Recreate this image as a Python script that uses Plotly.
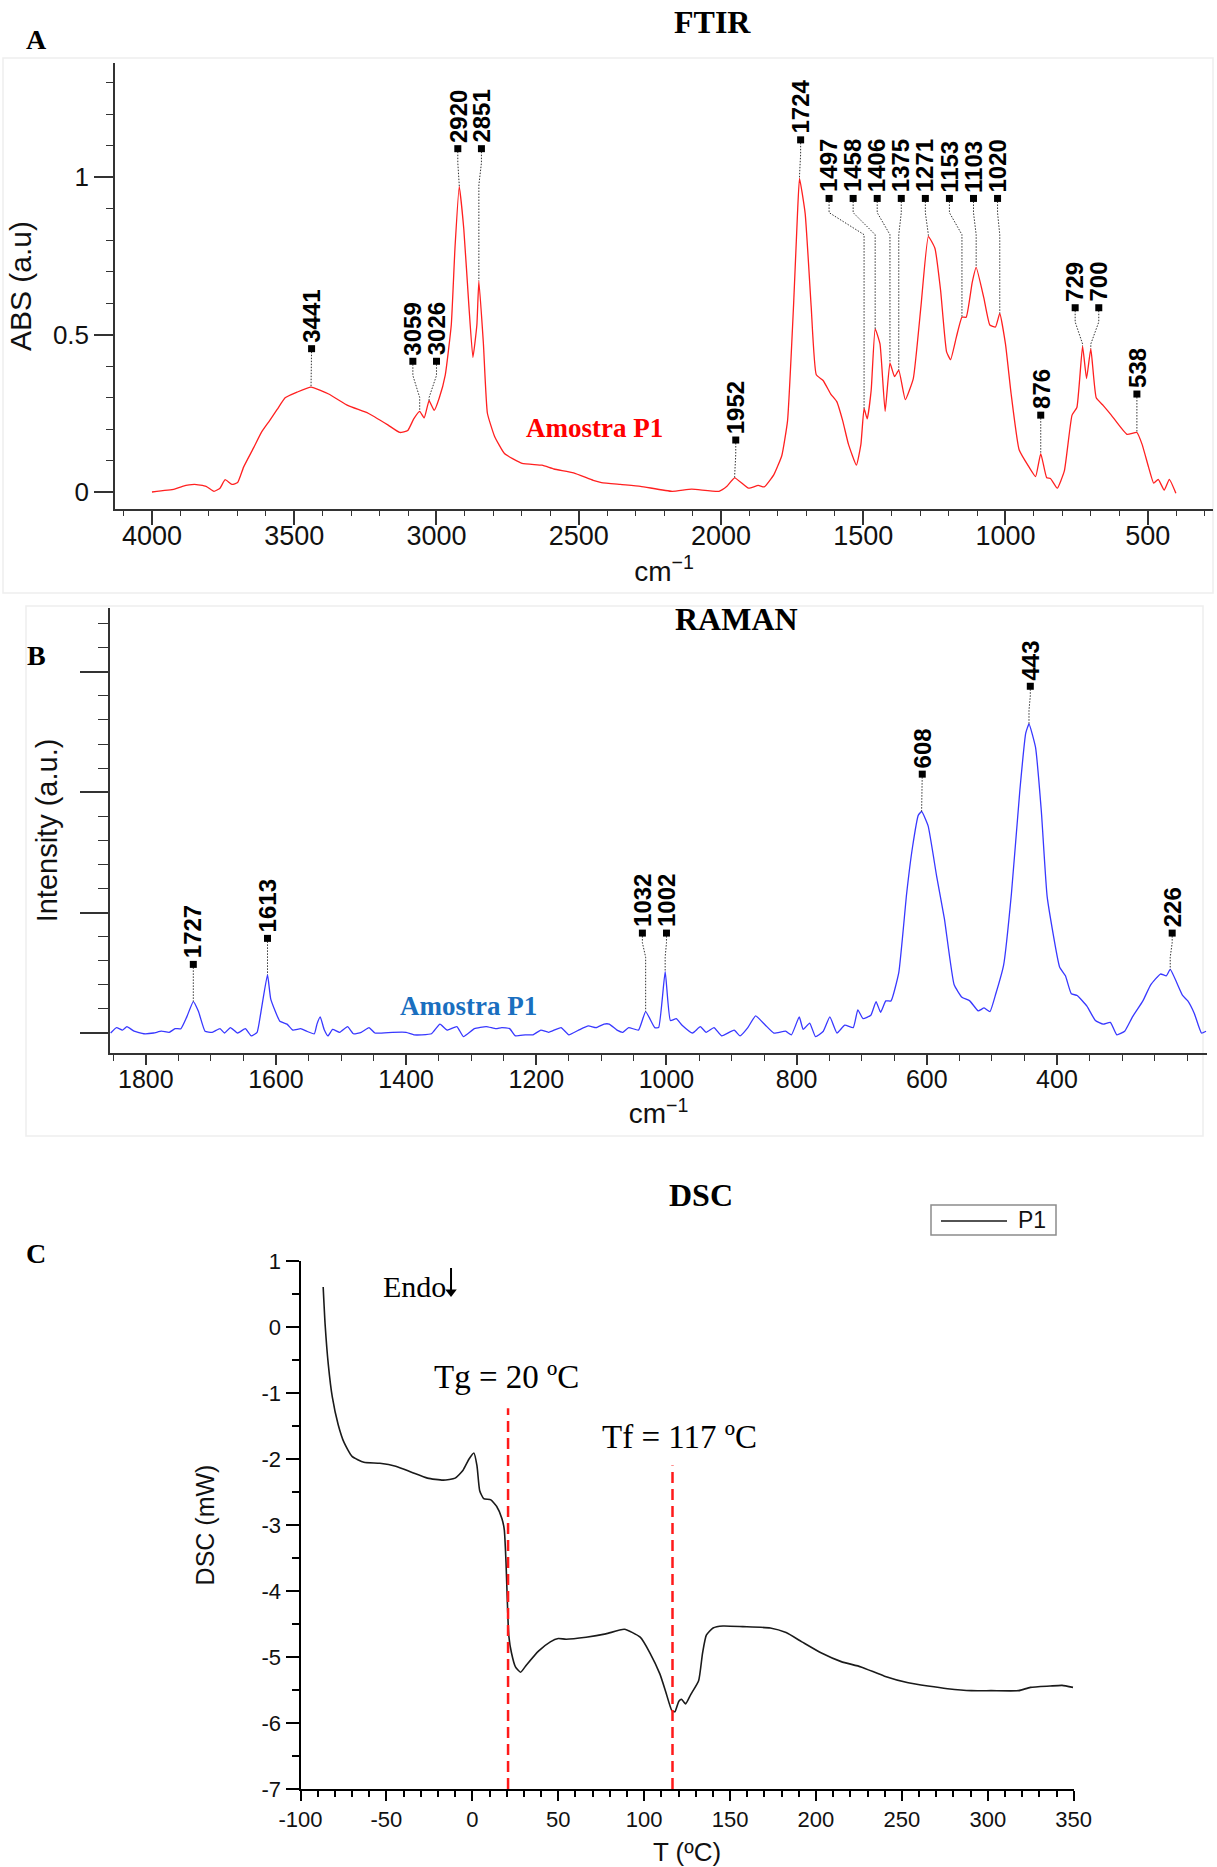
import numpy as np
import plotly.graph_objects as go

# ---------------- DATA ----------------
# FTIR spectrum (wavenumber cm-1, absorbance a.u.)
ftir_x = [4000, 3921, 3893, 3851, 3810, 3782, 3761, 3743, 3719, 3699, 3678, 3643, 3615, 3587, 3560,
          3532, 3490, 3441, 3379, 3310, 3240, 3171, 3129, 3101, 3080, 3059, 3043, 3026, 3008, 2990,
          2969, 2948, 2935, 2920, 2904, 2886, 2872, 2858, 2851, 2835, 2821, 2796, 2761, 2699, 2629,
          2587, 2518, 2449, 2420, 2354, 2283, 2172, 2103, 2007, 1979, 1952, 1903, 1869, 1848, 1814,
          1786, 1766, 1745, 1731, 1724, 1704, 1683, 1665, 1641, 1614, 1593, 1572, 1552, 1524, 1508,
          1497, 1486, 1472, 1458, 1441, 1423, 1406, 1390, 1375, 1352, 1324, 1297, 1271, 1248, 1228,
          1207, 1193, 1172, 1153, 1138, 1117, 1103, 1076, 1055, 1035, 1020, 1000, 980, 952, 917,
          894, 876, 855, 842, 818, 793, 766, 749, 729, 715, 700, 681, 656, 628, 573,
          538, 520, 497, 479, 463, 442, 424, 401]
ftir_y = [0.0, 0.009, 0.018, 0.024, 0.018, 0.002, 0.012, 0.039, 0.024, 0.03, 0.079, 0.14, 0.19, 0.226, 0.262,
          0.299, 0.317, 0.333, 0.311, 0.274, 0.25, 0.213, 0.189, 0.195, 0.232, 0.256, 0.235, 0.29, 0.259, 0.299,
          0.372, 0.53, 0.774, 0.97, 0.835, 0.59, 0.427, 0.53, 0.67, 0.47, 0.25, 0.177, 0.122, 0.091, 0.085,
          0.073, 0.061, 0.037, 0.03, 0.024, 0.018, 0.002, 0.009, 0.002, 0.018, 0.045, 0.012, 0.021, 0.016, 0.055,
          0.116, 0.226, 0.59, 0.884, 0.996, 0.884, 0.59, 0.372, 0.354, 0.311, 0.287, 0.226, 0.152, 0.085, 0.152,
          0.265, 0.232, 0.323, 0.518, 0.47, 0.256, 0.41, 0.366, 0.387, 0.293, 0.36, 0.59, 0.811, 0.774, 0.64,
          0.445, 0.42, 0.494, 0.555, 0.555, 0.665, 0.713, 0.616, 0.53, 0.524, 0.567, 0.47, 0.311, 0.134, 0.079,
          0.049, 0.122, 0.045, 0.043, 0.012, 0.067, 0.244, 0.268, 0.463, 0.36, 0.455, 0.299, 0.274, 0.244, 0.183,
          0.189, 0.152, 0.079, 0.028, 0.04, 0.006, 0.04, -0.004]
ftir_peaks = [3441, 3059, 3026, 2920, 2851, 1952, 1724, 1497, 1458, 1406, 1375, 1271, 1153, 1103, 1020, 876, 729, 700, 538]

# Raman spectrum (Raman shift cm-1, intensity a.u.)
raman_x = [1854, 1845, 1836, 1829, 1818, 1803, 1788, 1776, 1764, 1755, 1746, 1737, 1727, 1719, 1709,
           1698, 1686, 1679, 1670, 1659, 1647, 1638, 1629, 1623, 1613, 1608, 1594, 1583, 1574, 1562,
           1553, 1541, 1537, 1532, 1526, 1520, 1513, 1502, 1490, 1481, 1469, 1457, 1448, 1421, 1400,
           1388, 1376, 1361, 1348, 1337, 1322, 1312, 1295, 1277, 1262, 1253, 1241, 1232, 1217, 1205,
           1193, 1181, 1162, 1150, 1135, 1120, 1108, 1096, 1088, 1076, 1067, 1058, 1043, 1032, 1018,
           1012, 1002, 994, 985, 976, 960, 948, 939, 927, 915, 896, 887, 875, 863, 848,
           835, 817, 808, 796, 790, 780, 771, 759, 749, 738, 726, 713, 706, 698, 686,
           678, 671, 663, 655, 643, 631, 622, 613, 608, 598, 585, 573, 558, 546, 534,
           521, 512, 503, 494, 482, 470, 457, 448, 443, 433, 424, 415, 396, 387, 378,
           369, 354, 341, 329, 318, 308, 296, 284, 268, 256, 241, 232, 226, 207, 199,
           189, 178, 171]
raman_y = [0.0, 0.045, 0.024, 0.053, 0.015, -0.006, 0.0, 0.015, 0.006, 0.036, 0.036, 0.134, 0.261, 0.178, 0.015,
           0.006, 0.036, 0.0, 0.045, 0.0, 0.036, -0.024, 0.006, 0.178, 0.484, 0.282, 0.098, 0.074, 0.024, 0.036,
           0.015, -0.006, 0.074, 0.134, 0.03, -0.024, 0.03, 0.006, 0.053, -0.006, 0.006, 0.045, 0.0, 0.006, 0.006,
           -0.015, -0.015, -0.006, 0.074, 0.024, 0.053, -0.03, 0.036, 0.053, 0.036, 0.045, 0.036, -0.024, -0.015, -0.015,
           0.024, 0.006, 0.045, -0.015, 0.024, 0.059, 0.045, 0.074, 0.074, 0.024, 0.006, 0.045, 0.024, 0.178, 0.045,
           0.045, 0.51, 0.104, 0.119, 0.065, 0.0, 0.053, 0.006, 0.045, -0.024, 0.024, -0.024, 0.045, 0.142, 0.065,
           0.0, 0.015, -0.015, 0.134, 0.03, 0.083, -0.03, 0.015, 0.134, 0.0, 0.065, 0.045, 0.193, 0.119, 0.148,
           0.261, 0.172, 0.267, 0.267, 0.504, 1.157, 1.543, 1.81, 1.84, 1.72, 1.306, 0.95, 0.40, 0.297, 0.267,
           0.184, 0.208, 0.178, 0.326, 0.564, 1.157, 2.018, 2.49, 2.567, 2.374, 1.84, 1.128, 0.549, 0.475, 0.326,
           0.312, 0.223, 0.104, 0.074, 0.089, -0.015, 0.015, 0.134, 0.267, 0.40, 0.49, 0.475, 0.528, 0.312, 0.267,
           0.163, 0.0, 0.015]
raman_peaks = [1727, 1613, 1032, 1002, 608, 443, 226]
raman_xticks = [1800, 1600, 1400, 1200, 1000, 800, 600, 400]
raman_unlabeled_major = [200]

# DSC curve (temperature degC, heat flow mW)
dsc_t = [-86.8, -85.7, -83.8, -81.5, -78.1, -74.6, -70, -63.1, -53.8, -44.6, -35.4, -26.1, -16.9, -10, -5.4,
         -1.9, 0.9, 2.7, 4.3, 6.6, 10.8, 14.2, 17.2, 18.6, 19.6, 20.5, 21.2, 22.8, 25.1, 28.1,
         31.5, 38.5, 45.4, 50, 54.6, 66.2, 77.7, 88.5, 97.7, 103.4, 109.2, 112.6, 116.1, 117.9, 120.2,
         121.8, 124.1, 127.1, 131.7, 134, 136.2, 140.1, 145.9, 157.4, 173.4, 182.6, 191.8, 203.2, 214.7, 226.2,
         239.9, 253.7, 265.2, 276.6, 290.4, 301.9, 317.9, 324.8, 336.3, 343.2, 349.6]
dsc_mw = [0.605, 0.05, -0.574, -1.06, -1.476, -1.753, -1.96, -2.05, -2.065, -2.11, -2.2, -2.29, -2.32, -2.29, -2.17,
          -2.0, -1.91, -2.1, -2.48, -2.6, -2.62, -2.72, -2.9, -3.07, -3.56, -4.25, -4.67, -4.94, -5.15, -5.23,
          -5.12, -4.91, -4.77, -4.72, -4.73, -4.70, -4.65, -4.58, -4.70, -4.94, -5.26, -5.53, -5.81, -5.83, -5.67,
          -5.64, -5.71, -5.57, -5.36, -4.94, -4.67, -4.56, -4.53, -4.54, -4.56, -4.63, -4.77, -4.94, -5.07, -5.15,
          -5.29, -5.39, -5.44, -5.48, -5.51, -5.51, -5.51, -5.46, -5.44, -5.43, -5.46]
tg_value = 20
tf_value = 117
dsc_yticks = [-7, -6, -5, -4, -3, -2, -1, 0, 1]
dsc_xticks = [-100, -50, 0, 50, 100, 150, 200, 250, 300, 350]

# ---------------- LAYOUT HELPERS ----------------
W, H = 1217, 1867
def pxx(v):
    return v / W
def pyy(v):
    return 1 - v / H

SANS = "Liberation Sans, Arial, sans-serif"
SERIF = "Liberation Serif, Times New Roman, serif"

fig = go.Figure()

# ---- FTIR ----
fig.add_trace(go.Scatter(x=ftir_x, y=ftir_y, xaxis="x", yaxis="y", mode="lines",
                         line=dict(color="#ff2020", width=1.3, shape="spline", smoothing=0.4),
                         showlegend=False, hoverinfo="skip"))

ftir_lab_x = [3439, 3083, 3000, 2925, 2842, 1948, 1720] + list(1620 - 84.6 * np.arange(8)) + [876, 755, 672, 538]
ftir_lab_y = [0.455, 0.415, 0.415, 1.09, 1.09, 0.165, 1.118] + [0.932] * 8 + [0.244, 0.585, 0.585, 0.311]

fx_asc = np.array(ftir_x[::-1], dtype=float)
fy_asc = np.array(ftir_y[::-1], dtype=float)

def connectors(peaks, labx, laby, xs, ys, d1, d2):
    cx, cy = [], []
    for p, lx, ly in zip(peaks, labx, laby):
        pv = float(np.interp(p, xs, ys))
        b1 = ly - d1
        b2 = max(ly - d2, pv)
        cx += [lx, lx, p, p, None]
        cy += [ly, b1, b2, pv, None]
    return cx, cy

cx, cy = connectors(ftir_peaks, ftir_lab_x, ftir_lab_y, fx_asc, fy_asc, 0.045, 0.115)
fig.add_trace(go.Scatter(x=cx, y=cy, xaxis="x", yaxis="y", mode="lines",
                         line=dict(color="#333", width=1, dash="1.5px,1.5px"),
                         showlegend=False, hoverinfo="skip"))
fig.add_trace(go.Scatter(x=ftir_lab_x, y=ftir_lab_y, xaxis="x", yaxis="y", mode="markers",
                         marker=dict(symbol="square", size=7, color="black"),
                         showlegend=False, hoverinfo="skip"))

LABFONT = dict(family=SANS, size=24, color="black")
annotations = []
for p, lx, ly in zip(ftir_peaks, ftir_lab_x, ftir_lab_y):
    annotations.append(dict(x=lx, y=ly, xref="x", yref="y", text="<b>%d</b>" % p, showarrow=False,
                            textangle=-90, xanchor="center", yanchor="bottom", yshift=4, font=LABFONT))

# ---- RAMAN ----
fig.add_trace(go.Scatter(x=raman_x, y=raman_y, xaxis="x2", yaxis="y2", mode="lines",
                         line=dict(color="#3838ff", width=1.3, shape="spline", smoothing=0.4),
                         showlegend=False, hoverinfo="skip"))
raman_lab_x = [1727, 1613, 1037, 1000, 607, 441, 223]
raman_lab_y = [0.57, 0.786, 0.83, 0.83, 2.15, 2.88, 0.83]
rx_asc = np.array(raman_x[::-1], dtype=float)
ry_asc = np.array(raman_y[::-1], dtype=float)
cx, cy = connectors(raman_peaks, raman_lab_x, raman_lab_y, rx_asc, ry_asc, 0.08, 0.2)
fig.add_trace(go.Scatter(x=cx, y=cy, xaxis="x2", yaxis="y2", mode="lines",
                         line=dict(color="#333", width=1, dash="1.5px,1.5px"),
                         showlegend=False, hoverinfo="skip"))
fig.add_trace(go.Scatter(x=raman_lab_x, y=raman_lab_y, xaxis="x2", yaxis="y2", mode="markers",
                         marker=dict(symbol="square", size=7, color="black"),
                         showlegend=False, hoverinfo="skip"))
for p, lx, ly in zip(raman_peaks, raman_lab_x, raman_lab_y):
    annotations.append(dict(x=lx, y=ly, xref="x2", yref="y2", text="<b>%d</b>" % p, showarrow=False,
                            textangle=-90, xanchor="center", yanchor="bottom", yshift=4, font=LABFONT))

# ---- DSC ----
fig.add_trace(go.Scatter(x=dsc_t, y=dsc_mw, xaxis="x3", yaxis="y3", mode="lines", name="P1",
                         line=dict(color="#1a1a1a", width=1.6, shape="spline", smoothing=0.5),
                         showlegend=False, hoverinfo="skip"))

# Endo arrow (shaft + head) in DSC data coordinates
endo_x = -12.4
fig.add_trace(go.Scatter(x=[endo_x, endo_x], y=[0.894, 0.52], xaxis="x3", yaxis="y3", mode="lines",
                         line=dict(color="black", width=2), showlegend=False, hoverinfo="skip"))
fig.add_trace(go.Scatter(x=[endo_x], y=[0.53], xaxis="x3", yaxis="y3", mode="markers",
                         marker=dict(symbol="triangle-down", size=10, color="black"),
                         showlegend=False, hoverinfo="skip"))

# ---------------- TEXT ----------------
annotations += [
    dict(x=pxx(36), y=pyy(39), xref="paper", yref="paper", text="<b>A</b>", showarrow=False,
         font=dict(family=SERIF, size=28, color="black"), xanchor="center", yanchor="middle"),
    dict(x=pxx(36), y=pyy(656), xref="paper", yref="paper", text="<b>B</b>", showarrow=False,
         font=dict(family=SERIF, size=28, color="black"), xanchor="center", yanchor="middle"),
    dict(x=pxx(36), y=pyy(1253), xref="paper", yref="paper", text="<b>C</b>", showarrow=False,
         font=dict(family=SERIF, size=28, color="black"), xanchor="center", yanchor="middle"),
    dict(x=pxx(712), y=pyy(22), xref="paper", yref="paper", text="<b>FTIR</b>", showarrow=False,
         font=dict(family=SERIF, size=32, color="black"), xanchor="center", yanchor="middle"),
    dict(x=pxx(736), y=pyy(619), xref="paper", yref="paper", text="<b>RAMAN</b>", showarrow=False,
         font=dict(family=SERIF, size=32, color="black"), xanchor="center", yanchor="middle"),
    dict(x=pxx(701), y=pyy(1195), xref="paper", yref="paper", text="<b>DSC</b>", showarrow=False,
         font=dict(family=SERIF, size=32, color="black"), xanchor="center", yanchor="middle"),
    dict(x=2445, y=0.203, xref="x", yref="y", text="<b>Amostra P1</b>", showarrow=False,
         font=dict(family=SERIF, size=27, color="#ff0000"), xanchor="center", yanchor="middle"),
    dict(x=1304, y=0.224, xref="x2", yref="y2", text="<b>Amostra P1</b>", showarrow=False,
         font=dict(family=SERIF, size=27, color="#1a6fbf"), xanchor="center", yanchor="middle"),
    dict(x=endo_x - 1.5, y=0.62, xref="x3", yref="y3", text="Endo", showarrow=False,
         font=dict(family=SERIF, size=30, color="black"), xanchor="right", yanchor="middle"),
    dict(x=19.6, y=-0.76, xref="x3", yref="y3", text="Tg = %d ºC" % tg_value, showarrow=False,
         font=dict(family=SERIF, size=33, color="black"), xanchor="center", yanchor="middle"),
    dict(x=120.3, y=-1.66, xref="x3", yref="y3", text="Tf = %d ºC" % tf_value, showarrow=False,
         font=dict(family=SERIF, size=33, color="black"), xanchor="center", yanchor="middle"),
    # legend (drawn box)
    dict(x=pxx(1016), y=pyy(1220), xref="paper", yref="paper", text="P1", showarrow=False,
         font=dict(family=SANS, size=23, color="#111"), xanchor="left", yanchor="middle"),
]

shapes = [
    dict(type="line", xref="x3", yref="y3", x0=tg_value + 0.8, x1=tg_value + 0.8, y0=-7, y1=-1.23,
         line=dict(color="#ff1a1a", width=2.5, dash="11px,6px")),
    dict(type="line", xref="x3", yref="y3", x0=tf_value - 0.5, x1=tf_value - 0.5, y0=-7, y1=-2.1,
         line=dict(color="#ff1a1a", width=2.5, dash="11px,6px")),
    dict(type="rect", xref="paper", yref="paper", x0=pxx(3), x1=pxx(1213), y0=pyy(593), y1=pyy(58),
         line=dict(color="#eeeeee", width=1.5), layer="below"),
    dict(type="rect", xref="paper", yref="paper", x0=pxx(26), x1=pxx(1203), y0=pyy(1136), y1=pyy(606),
         line=dict(color="#eeeeee", width=1.5), layer="below"),
    # legend box and sample line
    dict(type="rect", xref="paper", yref="paper", x0=pxx(931), x1=pxx(1056), y0=pyy(1235), y1=pyy(1205),
         line=dict(color="#8c8c8c", width=1.5), fillcolor="white"),
    dict(type="line", xref="paper", yref="paper", x0=pxx(941), x1=pxx(1007), y0=pyy(1221), y1=pyy(1221),
         line=dict(color="#1a1a1a", width=1.6)),
]
# unlabeled major tick on the Raman axis
for v in raman_unlabeled_major:
    shapes.append(dict(type="line", xref="x2", yref="y2", x0=v, x1=v, ysizemode="pixel", yanchor=-0.166,
                       y0=0, y1=-10, line=dict(color="#333", width=1.5)))

axis_common = dict(showgrid=False, zeroline=False, showline=True, ticks="outside", mirror=False, automargin=False)

fig.update_layout(
    width=W, height=H,
    margin=dict(l=0, r=0, t=0, b=0, autoexpand=False),
    paper_bgcolor="white", plot_bgcolor="rgba(0,0,0,0)",
    font=dict(family=SANS, color="#111"),
    annotations=annotations,
    shapes=shapes,
    showlegend=False,
    xaxis=dict(**axis_common, domain=[pxx(115), pxx(1213)], range=[4130, 270.5], anchor="y",
               linecolor="#333", linewidth=1.5, tickcolor="#333", tickwidth=1.5, ticklen=14,
               tick0=0, dtick=500, tickfont=dict(size=27, color="#111"), ticklabelstandoff=-12,
               minor=dict(dtick=100, tick0=0, ticklen=5, tickwidth=1, tickcolor="#333", ticks="outside"),
               title=dict(text="cm<sup>−1</sup>", font=dict(size=28, color="#111"), standoff=2)),
    yaxis=dict(**axis_common, domain=[pyy(509), pyy(63)], range=[-0.054, 1.362], anchor="x",
               linecolor="#333", linewidth=1.5, tickcolor="#333", tickwidth=1.5, ticklen=19,
               tick0=0, dtick=0.5, tickfont=dict(size=26, color="#111"),
               minor=dict(dtick=0.1, tick0=0, ticklen=7, tickwidth=1, tickcolor="#333", ticks="outside"),
               title=dict(text="ABS (a.u)", font=dict(size=30, color="#111"), standoff=12)),
    xaxis2=dict(**axis_common, domain=[pxx(110), pxx(1207)], range=[1855, 169.5], anchor="y2",
                linecolor="#333", linewidth=1.5, tickcolor="#333", tickwidth=1.5, ticklen=10,
                tickmode="array", tickvals=raman_xticks, ticktext=[str(v) for v in raman_xticks],
                tickfont=dict(size=25, color="#111"), ticklabelstandoff=-7,
                minor=dict(dtick=50, tick0=0, ticklen=6, tickwidth=1, tickcolor="#333", ticks="outside"),
                title=dict(text="cm<sup>−1</sup>", font=dict(size=28, color="#111"), standoff=12)),
    yaxis2=dict(**axis_common, domain=[pyy(1053), pyy(608)], range=[-0.166, 3.53], anchor="x2",
                linecolor="#333", linewidth=1.5, tickcolor="#333", tickwidth=2, ticklen=28,
                tick0=0, dtick=1, showticklabels=False,
                minor=dict(dtick=0.2, tick0=0, ticklen=10, tickwidth=1.2, tickcolor="#333", ticks="outside"),
                title=dict(text="Intensity (a.u.)", font=dict(size=29, color="#111"), standoff=14)),
    xaxis3=dict(**axis_common, domain=[pxx(300.5), pxx(1073.7)], range=[-100, 350], anchor="y3",
                linecolor="black", linewidth=2, tickcolor="black", tickwidth=2, ticklen=10,
                tickmode="array", tickvals=dsc_xticks, ticktext=[str(v) for v in dsc_xticks],
                tickfont=dict(size=22, color="#111"),
                minor=dict(dtick=10, tick0=0, ticklen=6, tickwidth=1.5, tickcolor="black", ticks="outside"),
                title=dict(text="T (ºC)", font=dict(size=26, color="#111"), standoff=22)),
    yaxis3=dict(**axis_common, domain=[pyy(1789), pyy(1261)], range=[-7, 1], anchor="x3",
                linecolor="black", linewidth=2, tickcolor="black", tickwidth=2, ticklen=13,
                tickmode="array", tickvals=dsc_yticks, ticktext=[str(v) for v in dsc_yticks],
                tickfont=dict(size=22, color="#111"),
                minor=dict(dtick=0.5, tick0=0, ticklen=7, tickwidth=1.5, tickcolor="black", ticks="outside"),
                title=dict(text="DSC (mW)", font=dict(size=25, color="#111"), standoff=40)),
)

fig.write_html("out.html")
